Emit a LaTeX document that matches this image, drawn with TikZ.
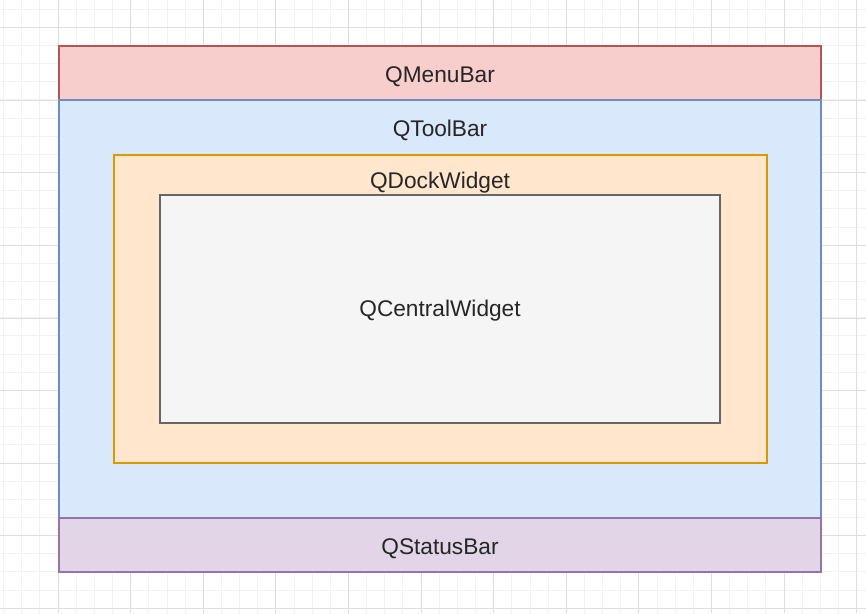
\documentclass[tikz,border=0pt]{standalone}
\usepackage{fontspec}
\setmainfont{Liberation Sans}
\usetikzlibrary{positioning}

\definecolor{menufill}{HTML}{F8CECC}
\definecolor{menuline}{HTML}{B85450}
\definecolor{toolfill}{HTML}{DAE8FC}
\definecolor{toolline}{HTML}{6C8EBF}
\definecolor{dockfill}{HTML}{FFE6CC}
\definecolor{dockline}{HTML}{D79B00}
\definecolor{centfill}{HTML}{F5F5F5}
\definecolor{centline}{HTML}{666666}
\definecolor{statfill}{HTML}{E1D5E7}
\definecolor{statline}{HTML}{9673A6}
\definecolor{gridminor}{HTML}{F2F2F2}
\definecolor{gridmajor}{HTML}{DEDEDE}

\begin{document}
\begin{tikzpicture}[
    x=0.75pt, y=-0.75pt,
    node distance=0pt,
    box/.style={draw, line width=1.1pt, inner sep=0pt, outer sep=0pt, font=\fontsize{17}{20}\selectfont,
      text=black!85, text height=1.4em, text depth=0pt},
    bar/.style={box, minimum width=571.5pt, minimum height=40.5pt},
    menubar/.style={bar, fill=menufill, draw=menuline},
    toolbar/.style={box, fill=toolfill, draw=toolline, minimum width=571.5pt, minimum height=313.5pt},
    statusbar/.style={bar, fill=statfill, draw=statline},
    dock/.style={box, fill=dockfill, draw=dockline, minimum width=489.75pt, minimum height=231pt},
    central/.style={box, fill=centfill, draw=centline, minimum width=420pt, minimum height=171pt, text height=1.15em},
    caption/.style={inner sep=0pt, font=\fontsize{17}{20}\selectfont, text=black!85, text height=1.4em, text depth=0pt}
]
\useasboundingbox (0,0) rectangle (866,613);
\fill[white] (0,0) rectangle (866,613);

% background grid
\begin{scope}
\clip (0,0) rectangle (866,613);
\foreach \i in {0,...,48}{
  \draw[gridminor, line width=0.6pt] ({-14.6+\i*18.15},0) -- ({-14.6+\i*18.15},613);
  \draw[gridminor, line width=0.6pt] (0,{-9+\i*18.15}) -- (866,{-9+\i*18.15});
}
\foreach \i in {0,...,12}{
  \draw[gridmajor, line width=0.6pt] ({-14.6+\i*72.6},0) -- ({-14.6+\i*72.6},613);
  \draw[gridmajor, line width=0.6pt] (0,{-45.1+\i*72.6}) -- (866,{-45.1+\i*72.6});
}
\end{scope}

\node[menubar] (menubar) at (440,73) {QMenuBar};
\node[toolbar, below=of menubar] (toolbar) {};
\node[statusbar, below=of toolbar] (statusbar) {QStatusBar};
\node[dock] (dock) at (440.5,309) {};
\node[central] (central) at (440,309) {QCentralWidget};

\node[caption] (toolcap) at (440,127) {QToolBar};
\node[caption] (dockcap) at (440,179.5) {QDockWidget};
\end{tikzpicture}
\end{document}
